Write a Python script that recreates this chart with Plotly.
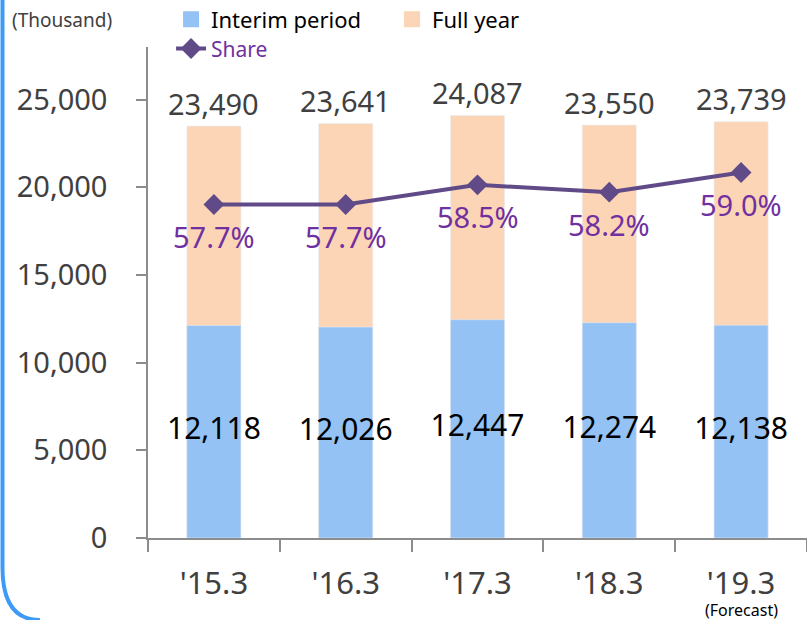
import plotly.graph_objects as go

# data
years = ["'15.3", "'16.3", "'17.3", "'18.3", "'19.3"]
interim = [12118, 12026, 12447, 12274, 12138]
full_year = [23490, 23641, 24087, 23550, 23739]
share = [57.7, 57.7, 58.5, 58.2, 59.0]

FONT = "Noto Sans"
BLUE = "#95c2f5"
PEACH = "#fbd5b5"
LINE = "#604a87"
PURPLE = "#7030a0"
GREY_TXT = "#404040"
AXIS = "#8c8c8c"

fig = go.Figure()

fig.add_trace(go.Bar(
    x=years, y=full_year, name="Full year", marker_color=PEACH,
    width=0.41, showlegend=False, hoverinfo="skip"))
fig.add_trace(go.Bar(
    x=years, y=interim, name="Interim period", marker_color=BLUE,
    width=0.41, showlegend=False, hoverinfo="skip"))

# legend entries with bigger square swatches than the bar default
for name, color, rank in [("Interim period", BLUE, 1), ("Full year", PEACH, 2)]:
    fig.add_trace(go.Scatter(
        x=[None], y=[None], mode="markers", name=name, legendrank=rank,
        marker=dict(symbol="square", size=22, color=color), legend="legend"))

# interim labels sit in the middle of the blue bars
fig.add_trace(go.Scatter(
    x=years, y=[v / 2 for v in interim], mode="text", text=[f"{v:,}" for v in interim],
    textposition="middle center", textfont=dict(size=30, color="black"),
    showlegend=False, cliponaxis=False, hoverinfo="skip"))

fig.add_trace(go.Scatter(
    x=years, y=share, name="Share", yaxis="y2", mode="lines+markers",
    line=dict(color=LINE, width=4), marker=dict(symbol="diamond", size=16, color=LINE),
    legend="legend2", cliponaxis=False, hoverinfo="skip"))

annotations = []
for yr, v in zip(years, full_year):
    annotations.append(dict(
        x=yr, y=v, xref="x", yref="y", text=f"{v:,}", showarrow=False,
        yanchor="middle", yshift=23, font=dict(size=29, color=GREY_TXT)))
for yr, v in zip(years, share):
    annotations.append(dict(
        x=yr, y=v, xref="x", yref="y2", text=f"{v:.1f}%", showarrow=False,
        yanchor="middle", yshift=-32, font=dict(size=29, color=PURPLE)))
annotations += [
    dict(text="(Thousand)", xref="paper", yref="paper", x=-0.21, y=1.054,
         xanchor="left", yanchor="middle", showarrow=False,
         font=dict(size=19, color=GREY_TXT)),
    dict(text="(Forecast)", xref="x", yref="paper", x=years[-1], y=-0.147,
         xanchor="center", yanchor="middle", showarrow=False,
         font=dict(size=16, color="black")),
]

fig.update_layout(
    width=807, height=620,
    margin=dict(l=148, r=0, t=47, b=82, autoexpand=False),
    paper_bgcolor="white", plot_bgcolor="white",
    font=dict(family=FONT, color=GREY_TXT),
    barmode="overlay",
    xaxis=dict(
        showline=True, linecolor=AXIS, linewidth=1.5,
        ticks="outside", tickson="boundaries", ticklen=12, tickcolor=AXIS, tickwidth=1.5,
        tickfont=dict(size=31, color=GREY_TXT), ticklabelstandoff=17, showgrid=False),
    yaxis=dict(
        range=[0, 28000], tickvals=[0, 5000, 10000, 15000, 20000, 25000],
        tickformat=",", showline=True, linecolor=AXIS, linewidth=1.5,
        ticks="outside", ticklen=10, tickcolor=AXIS, tickwidth=1.5,
        tickfont=dict(size=29, color=GREY_TXT), ticklabelstandoff=23,
        showgrid=False, zeroline=False),
    yaxis2=dict(range=[44.15, 64.1], overlaying="y", side="right", visible=False),
    legend=dict(
        orientation="h", x=0.035, y=1.099, xanchor="left", yanchor="top",
        font=dict(size=22, color="black"), entrywidth=176, bgcolor="rgba(0,0,0,0)"),
    legend2=dict(
        orientation="h", x=0.035, y=1.038, xanchor="left", yanchor="top",
        font=dict(size=21, color=PURPLE), bgcolor="rgba(0,0,0,0)"),
    annotations=annotations,
    shapes=[
        dict(type="path", xref="paper", yref="paper",
             path="M -0.2208,1.12 L -0.2208,-0.06 Q -0.2208,-0.167 -0.164,-0.167",
             line=dict(color="#3d9bf7", width=4)),
    ],
)

# drop the default body margin so the figure fills the window exactly
fig.write_html("out.html", config={"displayModeBar": False},
               post_script="document.body.style.margin='0';")
